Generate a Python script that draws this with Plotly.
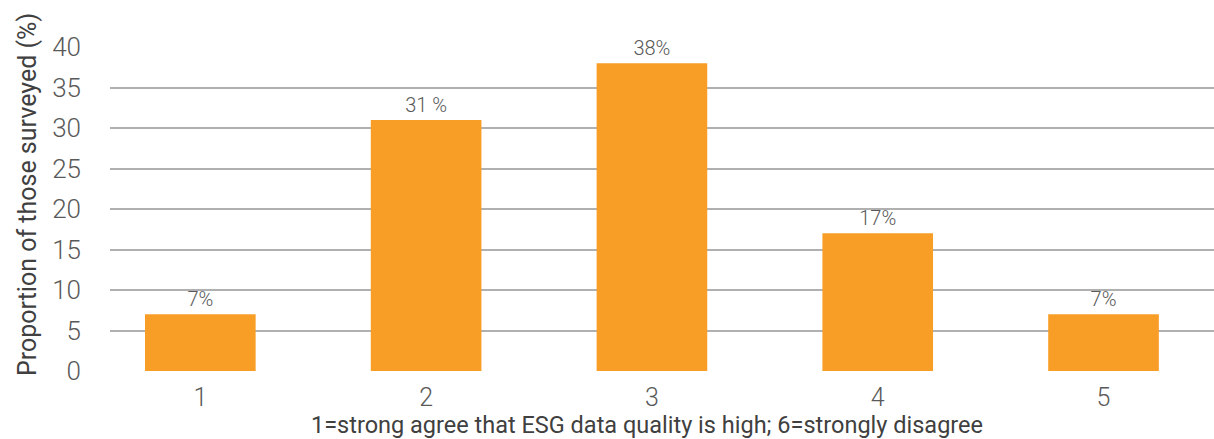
import plotly.graph_objects as go

# Survey responses on a 1-5 agreement scale
categories = [1, 2, 3, 4, 5]
share_pct = [7, 31, 38, 17, 7]
value_labels = ["7%", "31 %", "38%", "17%", "7%"]
y_ticks = [0, 5, 10, 15, 20, 25, 30, 35, 40]

BAR_COLOR = "#F89E27"
TEXT_COLOR = "#595959"
GRID_COLOR = "#B0B0B0"
FONT = "Roboto"

W, H = 1214, 439
L, R, T, B = 110, 0, 47, 68
plot_w = W - L - R
plot_h = H - T - B

fig = go.Figure(
    go.Bar(
        x=categories,
        y=share_pct,
        width=0.49,
        marker=dict(color=BAR_COLOR, line=dict(width=0)),
        text=value_labels,
        textposition="outside",
        cliponaxis=False,
        textfont=dict(family=FONT, size=20, color=TEXT_COLOR, weight=300),
    )
)

fig.update_layout(
    width=W,
    height=H,
    margin=dict(l=L, r=R, t=T, b=B, pad=0),
    plot_bgcolor="white",
    paper_bgcolor="white",
    showlegend=False,
    font=dict(family=FONT, color=TEXT_COLOR),
)

fig.update_xaxes(
    range=[0.6, 0.6 + plot_w / 225.8],
    tickvals=categories,
    ticktext=[str(c) for c in categories],
    tickfont=dict(family=FONT, size=25, color=TEXT_COLOR, weight=300),
    showgrid=False,
    zeroline=False,
    showline=False,
    ticks="",
    ticklabelstandoff=9,
    fixedrange=True,
)

fig.update_yaxes(
    range=[0, 40],
    tickvals=y_ticks,
    tickfont=dict(family=FONT, size=26, color=TEXT_COLOR, weight=300),
    showgrid=True,
    gridcolor=GRID_COLOR,
    gridwidth=1.5,
    zeroline=False,
    showline=False,
    ticks="",
    ticklabelstandoff=28,
    fixedrange=True,
)

# Axis titles placed in paper coordinates
fig.add_annotation(
    text="1=strong agree that ESG data quality is high; 6=strongly disagree",
    xref="paper", yref="paper",
    x=(646.5 - L) / plot_w, y=(H - B - 425) / plot_h,
    xanchor="center", yanchor="middle",
    showarrow=False,
    font=dict(family=FONT, size=23.5, color="#404040", weight=400),
)
fig.add_annotation(
    text="Proportion of those surveyed (%)",
    xref="paper", yref="paper",
    x=(27 - L) / plot_w, y=(H - B - 195) / plot_h,
    xanchor="center", yanchor="middle",
    textangle=-90,
    showarrow=False,
    font=dict(family=FONT, size=25, color="#404040", weight=400),
)

fig.write_html("out.html")
